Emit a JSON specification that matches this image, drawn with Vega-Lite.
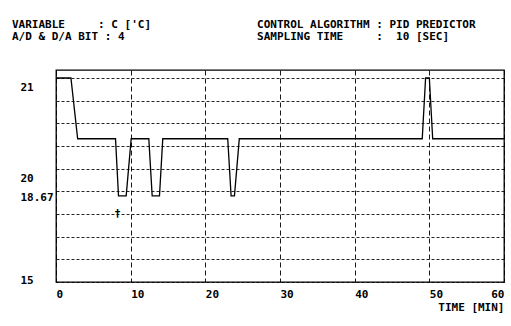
{
  "$schema": "https://vega.github.io/schema/vega-lite/v6.json",
  "width": 448,
  "height": 212,
  "autosize": {"type": "none"},
  "padding": {"left": 56, "top": 70, "right": 7, "bottom": 44},
  "background": "white",
  "title": {
    "text": [
      "VARIABLE\u00a0\u00a0\u00a0\u00a0\u00a0:\u00a0C\u00a0['C]\u00a0\u00a0\u00a0\u00a0\u00a0\u00a0\u00a0\u00a0\u00a0\u00a0\u00a0\u00a0\u00a0\u00a0\u00a0\u00a0CONTROL\u00a0ALGORITHM\u00a0:\u00a0PID\u00a0PREDICTOR",
      "A/D\u00a0&\u00a0D/A\u00a0BIT\u00a0:\u00a04\u00a0\u00a0\u00a0\u00a0\u00a0\u00a0\u00a0\u00a0\u00a0\u00a0\u00a0\u00a0\u00a0\u00a0\u00a0\u00a0\u00a0\u00a0\u00a0\u00a0SAMPLING\u00a0TIME\u00a0\u00a0\u00a0\u00a0\u00a0:\u00a0\u00a010\u00a0[SEC]"
    ],
    "anchor": "start",
    "frame": "group",
    "dx": -44,
    "offset": 28,
    "font": "DejaVu Sans Mono",
    "fontSize": 11,
    "fontWeight": "bold",
    "lineHeight": 12.5,
    "color": "black"
  },
  "datasets": {
    "series": [
      {"t": 0, "v": 21},
      {"t": 2.0, "v": 21},
      {"t": 2.9, "v": 20.33},
      {"t": 7.97, "v": 20.33},
      {"t": 8.37, "v": 19.7},
      {"t": 9.4, "v": 19.7},
      {"t": 10.07, "v": 20.33},
      {"t": 12.43, "v": 20.33},
      {"t": 12.88, "v": 19.7},
      {"t": 13.86, "v": 19.7},
      {"t": 14.3, "v": 20.33},
      {"t": 23.0, "v": 20.33},
      {"t": 23.45, "v": 19.7},
      {"t": 23.9, "v": 19.7},
      {"t": 24.55, "v": 20.33},
      {"t": 49.05, "v": 20.33},
      {"t": 49.5, "v": 21},
      {"t": 50.0, "v": 21},
      {"t": 50.45, "v": 20.33},
      {"t": 60, "v": 20.33}
    ],
    "notes": [
      {"t": 8.24, "v": 19.5, "label": "†"}
    ]
  },
  "layer": [
    {
      "data": {"name": "series"},
      "mark": {"type": "line", "color": "black", "strokeWidth": 1.3, "clip": true},
      "encoding": {
        "x": {
          "field": "t",
          "type": "quantitative",
          "scale": {"domain": [0, 60], "nice": false},
          "axis": {
            "values": [0, 10, 20, 30, 40, 50, 60],
            "tickCount": 20,
            "title": "TIME [MIN]",
            "grid": true,
            "gridColor": "black",
            "gridDash": [5, 3],
            "gridWidth": 1,
            "gridOpacity": 0.9,
            "ticks": false,
            "tickSize": 0,
            "domain": false,
            "labelPadding": 6,
            "labelFlush": false,
            "labelOverlap": false,
            "labelAlign": {"condition": {"test": "datum.value == 60", "value": "right"}, "value": "left"},
            "labelFont": "DejaVu Sans Mono",
            "labelFontSize": 11,
            "labelFontWeight": "bold",
            "labelColor": "black",
            "titleFont": "DejaVu Sans Mono",
            "titleFontSize": 11,
            "titleFontWeight": "bold",
            "titleColor": "black",
            "titleAnchor": "end",
            "titleAlign": "right",
            "titlePadding": 2
          }
        },
        "y": {
          "field": "v",
          "type": "quantitative",
          "scale": {"domain": [18.75, 21.088], "nice": false, "zero": false},
          "axis": {
            "values": [18.75, 19, 19.25, 19.5, 19.75, 20, 20.25, 20.5, 20.75, 21],
            "tickCount": 40,
            "title": null,
            "grid": true,
            "gridColor": "black",
            "gridDash": [3, 2],
            "gridWidth": 1,
            "gridOpacity": 0.85,
            "ticks": false,
            "tickSize": 0,
            "domain": false,
            "labelAlign": "left",
            "labelBaseline": "middle",
            "labelPadding": 36,
            "labelOverlap": false,
            "labelFlush": false,
            "labelExpr": "datum.value == 21 ? '21' : datum.value == 20 ? '20' : datum.value == 19.75 ? '18.67' : datum.value == 18.75 ? '15' : ''",
            "labelOffset": {"condition": [{"test": "datum.value == 18.75", "value": -2}, {"test": "datum.value == 19.75", "value": 6}], "value": 9.5},
            "labelFont": "DejaVu Sans Mono",
            "labelFontSize": 11,
            "labelFontWeight": "bold",
            "labelColor": "black"
          }
        }
      }
    },
    {
      "data": {"name": "notes"},
      "mark": {"type": "text", "color": "black", "font": "DejaVu Sans Mono", "fontSize": 11, "fontWeight": "bold"},
      "encoding": {
        "x": {"field": "t", "type": "quantitative"},
        "y": {"field": "v", "type": "quantitative"},
        "text": {"field": "label"}
      }
    }
  ],
  "config": {
    "view": {"stroke": "black", "strokeWidth": 1.3}
  }
}
